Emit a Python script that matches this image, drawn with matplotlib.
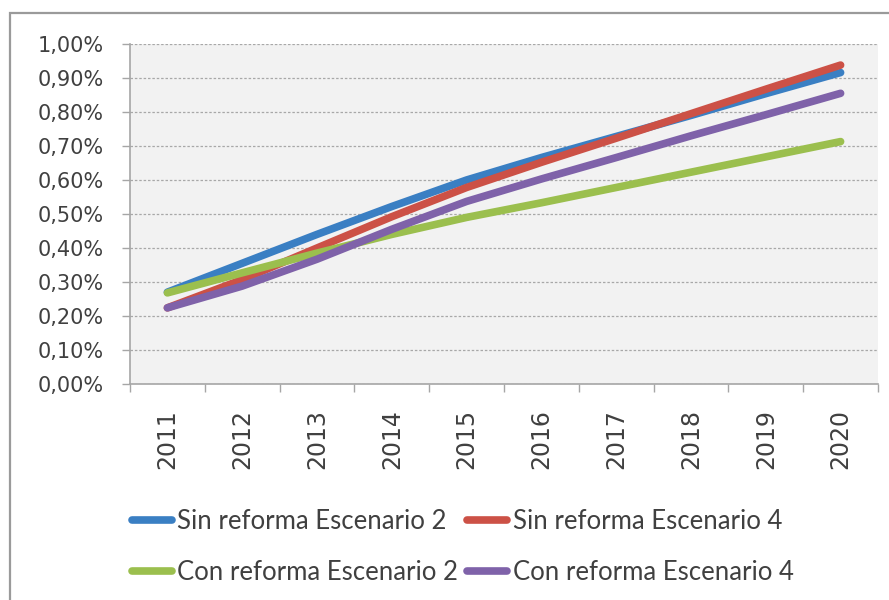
import matplotlib
matplotlib.use("Agg")
import matplotlib.pyplot as plt
from matplotlib.patches import Rectangle
from matplotlib.ticker import FixedLocator, FuncFormatter
from matplotlib.lines import Line2D

years = ["2011", "2012", "2013", "2014", "2015", "2016", "2017", "2018", "2019", "2020"]
sin_esc2 = [0.270, 0.355, 0.440, 0.522, 0.600, 0.666, 0.728, 0.790, 0.854, 0.916]
sin_esc4 = [0.224, 0.307, 0.400, 0.492, 0.578, 0.652, 0.723, 0.795, 0.867, 0.938]
con_esc2 = [0.268, 0.327, 0.385, 0.440, 0.490, 0.533, 0.578, 0.623, 0.668, 0.713]
con_esc4 = [0.224, 0.288, 0.367, 0.455, 0.537, 0.603, 0.666, 0.730, 0.792, 0.855]
labels = ["Sin reforma Escenario 2", "Sin reforma Escenario 4",
          "Con reforma Escenario 2", "Con reforma Escenario 4"]
colors = ["#3a7fc3", "#cc5146", "#9bbf4e", "#7f62a9"]
yticks = [0.0, 0.1, 0.2, 0.3, 0.4, 0.5, 0.6, 0.7, 0.8, 0.9, 1.0]

W, H = 889, 600
fig = plt.figure(figsize=(W / 100, H / 100), dpi=100)
fig.patch.set_facecolor("white")

# outer chart border
fig.patches.append(Rectangle((10 / W, -0.2), 1.2, 1.2 - 13 / H,
                             transform=fig.transFigure, fill=False,
                             edgecolor="#9a9a9a", linewidth=1.6, zorder=0))

ax = fig.add_axes([130 / W, 1 - 384 / H, (878 - 130) / W, (384 - 44) / H])
ax.set_facecolor("#f2f2f2")

x = list(range(1, len(years) + 1))
series = [sin_esc2, sin_esc4, con_esc2, con_esc4]
for s, c, lab in zip(series, colors, labels):
    ax.plot(x, s, color=c, lw=5.5, solid_capstyle="round",
            solid_joinstyle="round", label=lab)

ax.set_xlim(0.5, len(years) + 0.5)
ax.set_ylim(0, 1.0)

ax.yaxis.set_major_locator(FixedLocator(yticks))
ax.yaxis.set_major_formatter(FuncFormatter(lambda v, p: f"{v:.2f}%".replace(".", ",")))
ax.grid(axis="y", linestyle=(0, (2, 1.5)), color="#a8a8a8", linewidth=0.9)
ax.set_axisbelow(True)

ax.set_xticks(x)
ax.set_xticklabels(years, rotation=90)
ax.set_xticks([i + 0.5 for i in range(0, len(years) + 1)], minor=True)
ax.tick_params(axis="x", which="major", length=0, pad=18, labelsize=17, labelcolor="#404040")
ax.tick_params(axis="x", which="minor", length=6, width=1, color="#a6a6a6", direction="out")
ax.tick_params(axis="y", length=6, width=1, color="#a6a6a6", direction="out", pad=13,
               labelsize=15, labelcolor="#404040")
for lab in ax.get_xticklabels():
    lab.set_verticalalignment("top")

for side in ["top", "right"]:
    ax.spines[side].set_visible(False)
for side in ["left", "bottom"]:
    ax.spines[side].set_color("#a6a6a6")
    ax.spines[side].set_linewidth(1.2)

# legend: row-major order like the reference (matplotlib fills column by column)
order = [0, 2, 1, 3]
handles = [Line2D([0], [0], color=colors[i], lw=5.5, solid_capstyle="round") for i in order]
leg_labels = [labels[i] for i in order]
leg = fig.legend(handles, leg_labels, ncol=2, loc="center left",
                 bbox_to_anchor=(132 / W, 1 - 547 / H), frameon=False,
                 prop={"family": "Lato", "size": 18.5},
                 handlelength=1.55, handletextpad=0.22, columnspacing=0.35,
                 labelspacing=1.0, borderaxespad=0, borderpad=0)
for t in leg.get_texts():
    t.set_color("#404040")

fig.savefig("out.png", dpi=100, facecolor="white")
